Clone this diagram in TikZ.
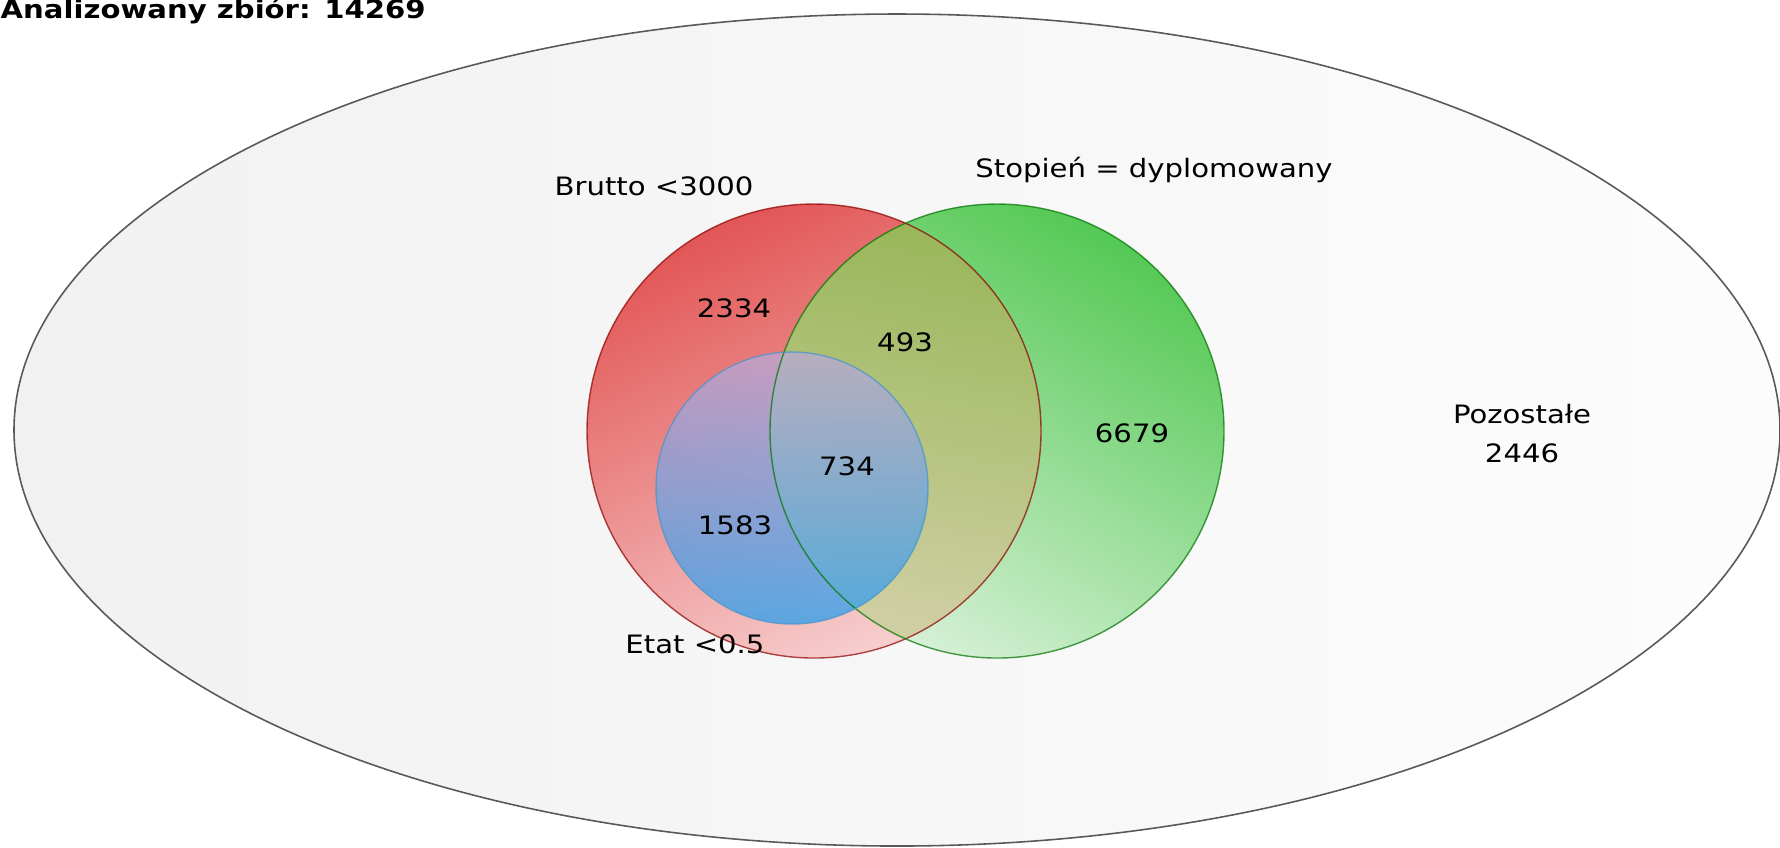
\documentclass[tikz,border=0pt]{standalone}
\usepackage{fontspec}
\setmainfont{DejaVu Sans}[FakeStretch=1.15]

\definecolor{czerwA}{HTML}{E25656}
\definecolor{czerwB}{HTML}{F7CFCF}
\definecolor{zielA}{HTML}{55C955}
\definecolor{zielB}{HTML}{D6F0D6}
\definecolor{oliwA}{HTML}{98B658}
\definecolor{oliwB}{HTML}{D6D2AC}
\definecolor{niebA}{HTML}{BCA8D8}
\definecolor{niebB}{HTML}{2A9EEE}

\tikzset{
  etykieta/.style={anchor=base, inner sep=0pt, font=\fontsize{7.2}{8.6}\selectfont},
  brzeg/.style={line width=0.4pt, draw opacity=0.7},
}

\begin{document}
\begin{tikzpicture}[x=0.01cm, y=-0.01cm]
\useasboundingbox (0,0) rectangle (1780,847);
\clip (0,0) rectangle (1780,847);
\fill[white] (0,0) rectangle (1780,847);

%zbior
\shade[left color=gray!11, right color=gray!2] (897,430) ellipse (883 and 416);
\draw[gray!70!black, line width=0.45pt] (897,430) ellipse (883 and 416);

%brutto
\shade[top color=czerwA, bottom color=czerwB, shading angle=25] (814,431) circle (227);

%stopien
\shade[top color=zielA, bottom color=zielB, shading angle=-30] (997,431) circle (227);

%brutto i stopien
\begin{scope}
  \clip (997,431) circle (227);
  \shade[top color=oliwA, bottom color=oliwB, shading angle=-10] (814,431) circle (227);
\end{scope}

%etat
\shade[top color=niebA, bottom color=niebB, fill opacity=0.75] (792,488) circle (136);

%brzegi
\draw[brzeg, red!55!black] (814,431) circle (227);
\draw[brzeg, green!45!black] (997,431) circle (227);
\draw[brzeg, niebB!70!gray] (792,488) circle (136);

%etykiety
\node[etykieta, anchor=base west, font=\bfseries\fontsize{7.2}{8.6}\selectfont] (zbior) at (0,18) {Analizowany zbiór: 14269};
\node[etykieta] (brutto) at (654,195) {Brutto <3000};
\node[etykieta] (stopien) at (1154,177) {Stopień = dyplomowany};
\node[etykieta] (etat) at (695,653) {Etat <0.5};
\node[etykieta] (pozostale) at (1522,423) {Pozostałe};
\node[etykieta] (pozostaleN) at (1522,462) {2446};

\node[etykieta] (tylkoBrutto) at (734,317) {2334};
\node[etykieta] (bruttoStopien) at (905,351) {493};
\node[etykieta] (tylkoStopien) at (1132,442) {6679};
\node[etykieta] (wszystkie) at (847,475) {734};
\node[etykieta] (bruttoEtat) at (735,534) {1583};

\end{tikzpicture}
\end{document}
